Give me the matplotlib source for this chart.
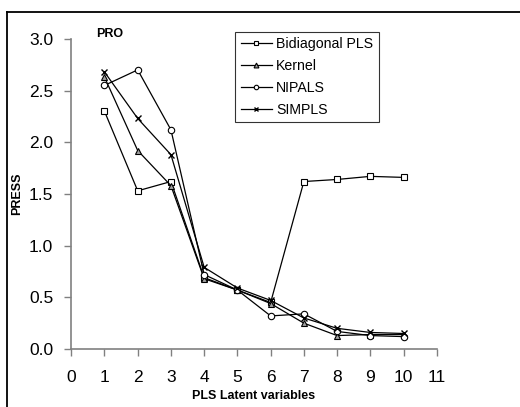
import matplotlib
matplotlib.use("Agg")
import matplotlib.pyplot as plt
from matplotlib.lines import Line2D

plt.rcParams['font.family'] = ['Liberation Sans', 'DejaVu Sans']

components = [1, 2, 3, 4, 5, 6, 7, 8, 9, 10]
bidiagonal = [2.30, 1.53, 1.62, 0.69, 0.57, 0.45, 1.62, 1.64, 1.67, 1.66]
kernel = [2.63, 1.92, 1.58, 0.68, 0.57, 0.44, 0.25, 0.13, 0.14, 0.14]
nipals = [2.55, 2.70, 2.12, 0.72, 0.57, 0.32, 0.34, 0.17, 0.13, 0.12]
simpls = [2.68, 2.23, 1.88, 0.79, 0.59, 0.47, 0.30, 0.20, 0.16, 0.15]

x_ticks = list(range(0, 12))
y_ticks = [0.0, 0.5, 1.0, 1.5, 2.0, 2.5, 3.0]

fig = plt.figure(figsize=(5.2, 4.07), dpi=100)
ax = fig.add_axes([0.137, 0.1425, 0.703, 0.762])

ax.plot(components, bidiagonal, color='black', lw=0.9, marker='s', ms=4.2,
        mfc='white', mec='black', mew=0.8, label='Bidiagonal PLS')
ax.plot(components, kernel, color='black', lw=0.9, marker='^', ms=5,
        mfc='#a0a0a0', mec='black', mew=0.8, label='Kernel')
ax.plot(components, nipals, color='black', lw=0.9, marker='o', ms=4.6,
        mfc='white', mec='black', mew=0.8, label='NIPALS')
ax.plot(components, simpls, color='black', lw=0.9, marker='x', ms=4,
        mec='black', mew=1.0, label='SIMPLS')

ax.set_xlim(0, 11)
ax.set_ylim(0, 3.0)
ax.set_xticks(x_ticks)
ax.set_yticks(y_ticks)
ax.set_yticklabels([f"{v:.1f}" for v in y_ticks])
ax.tick_params(direction='out', length=5, width=1, color='#808080',
               labelsize=12.5, pad=8)
ax.tick_params(axis='x', pad=10)
for s in ['top', 'right']:
    ax.spines[s].set_visible(False)
for s in ['left', 'bottom']:
    ax.spines[s].set_color('#808080')
    ax.spines[s].set_linewidth(1.2)

ax.set_xlabel('PLS Latent variables', fontsize=9, fontweight='bold', labelpad=4)
ax.set_ylabel('PRESS', fontsize=9, fontweight='bold', labelpad=4)
ax.text(0.068, 1.016, 'PRO', transform=ax.transAxes, fontsize=9,
        fontweight='bold', va='center', ha='left')

leg = ax.legend(loc='upper left', bbox_to_anchor=(0.448, 1.023), fontsize=10.2,
                frameon=True, fancybox=False, edgecolor='black',
                handlelength=2.2, handletextpad=0.3, borderpad=0.4,
                labelspacing=0.55, borderaxespad=0, markerscale=0.7)
leg.get_frame().set_linewidth(0.8)

# frame lines along the left and top of the figure
fig.add_artist(Line2D([7 / 520, 7 / 520], [0, 1 - 11.5 / 407],
                      transform=fig.transFigure, color='black', lw=1.3))
fig.add_artist(Line2D([7 / 520, 1], [1 - 11.5 / 407, 1 - 11.5 / 407],
                      transform=fig.transFigure, color='black', lw=1.3))

fig.savefig('out.png', dpi=100)
